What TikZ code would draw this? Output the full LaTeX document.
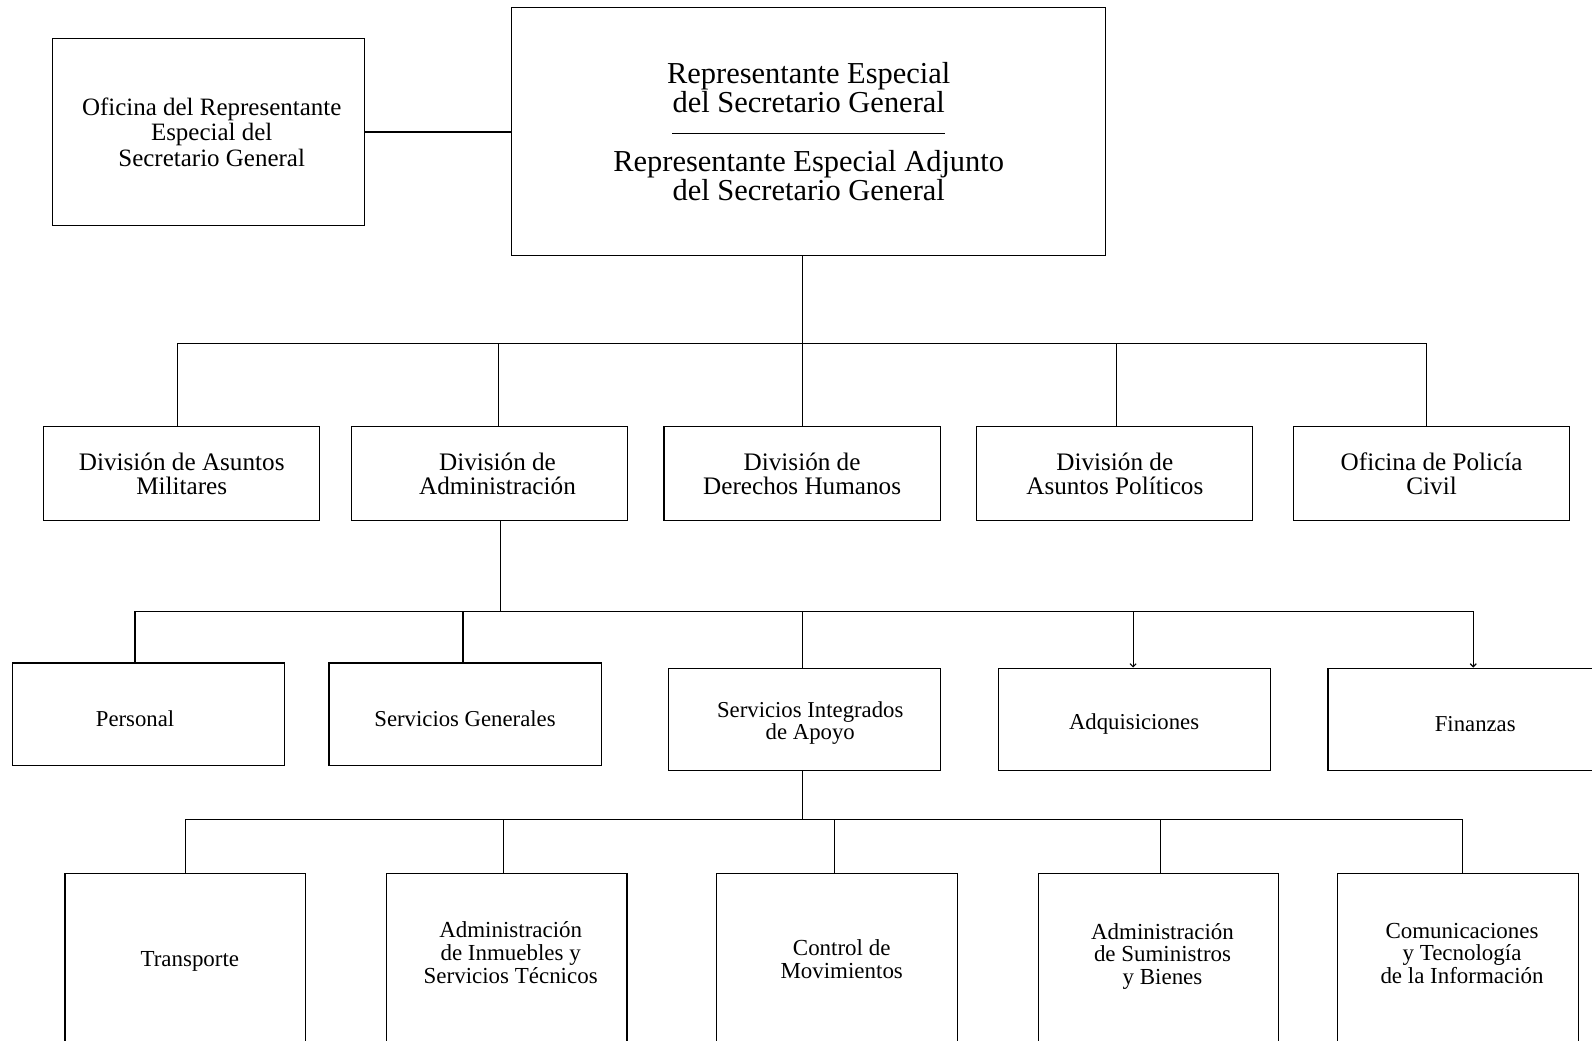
\documentclass[tikz,border=0pt]{standalone}
\usepackage{fontspec}
\setmainfont{Liberation Serif}
\usetikzlibrary{arrows.meta}
\begin{document}
\begin{tikzpicture}[x=0.5pt,y=-0.5pt,line width=0.55pt,
  box/.style={draw,line width=0.55pt,inner sep=0pt,align=center},
  topfont/.style={font=\fontsize{15}{14.5}\selectfont},
  divfont/.style={font=\fontsize{12.4}{12}\selectfont},
  ofifont/.style={font=\fontsize{12.3}{12.5}\selectfont},
  rowfont/.style={font=\fontsize{11.2}{11}\selectfont},
  botfont/.style={font=\fontsize{11.3}{11.25}\selectfont},
  divbox/.style={box,divfont,minimum width=136pt,minimum height=46.5pt},
  rowbox/.style={box,minimum width=134pt,minimum height=50.5pt},
  botbox/.style={box,minimum width=118.5pt,minimum height=100pt,anchor=north},
  lbl/.style={align=center,inner sep=0pt,botfont},
  rowlbl/.style={align=center,inner sep=0pt,rowfont},
  tip/.style={-{Straight Barb[length=1.5pt,width=3pt]}}]
\useasboundingbox (0,0) rectangle (1568,1025);
\clip (0,0) rectangle (1568,1025);

% top level
\node[box,topfont,minimum width=292.5pt,minimum height=122.5pt] (top) at (796.5,129.5)
  {Representante Especial\\del Secretario General\\\rule[4pt]{134.5pt}{0.5pt}\\Representante Especial Adjunto\\del Secretario General};
\node[box,ofifont,minimum width=153.5pt,minimum height=92pt] (ofi) at (205.5,130)
  {\hspace*{3pt}Oficina del Representante\\\hspace*{3pt}Especial del\\\hspace*{3pt}Secretario General};
\draw (ofi.east) -- (ofi.east -| top.west);

% divisions
\node[divbox] (d1) at (179,466.5) {División de Asuntos\\Militares};
\node[divbox] (d2) at (482,466.5) {\hspace*{8pt}División de\\\hspace*{8pt}Administración};
\node[divbox] (d3) at (790,466.5) {División de\\Derechos Humanos};
\node[divbox] (d4) at (1098,466.5) {División de\\Asuntos Políticos};
\node[divbox] (d5) at (1410,466.5) {Oficina de Policía\\Civil};

\coordinate (j0) at (790,338);
\coordinate (j1) at (175,338);
\coordinate (j2) at (491,338);
\coordinate (j3) at (790,338);
\coordinate (j4) at (1100,338);
\coordinate (j5) at (1405,338);
\draw (j0 |- top.south) -- (j0);
\draw (j1) -- (j5);
\foreach \i in {1,...,5} {\draw (j\i) -- (j\i |- d\i.north);}

% administration sections
\node[rowbox] (r1) at (146,703.5) {};
\node[rowbox] (r2) at (458,703.5) {};
\node[rowbox] (r3) at (792,708.5) {};
\node[rowbox] (r4) at (1117,708.5) {};
\node[rowbox,minimum width=145pt] (r5) at (1453,708.5) {};
\node[rowlbl] (q1) at (133,708) {Personal};
\node[rowlbl] (q2) at (458,708) {Servicios Generales};
\node[rowlbl] (q3) at (798,712) {Servicios Integrados\\de Apoyo};
\node[rowlbl] (q4) at (1117,713.5) {Adquisiciones};
\node[rowlbl] (q5) at (1453,713.5) {Finanzas};

\coordinate (k0) at (493,602);
\coordinate (k1) at (133,602);
\coordinate (k2) at (456,602);
\coordinate (k3) at (790,602);
\coordinate (k4) at (1116,602);
\coordinate (k5) at (1451,602);
\draw (k0 |- d2.south) -- (k0);
\draw (k1) -- (k5);
\draw (k1) -- (k1 |- r1.north);
\draw (k2) -- (k2 |- r2.north);
\draw (k3) -- (k3 |- r3.north);
\draw[tip] (k4) -- (k4 |- r4.north);
\draw[tip] (k5) -- (k5 |- r5.north);

% integrated support services
\node[botbox] (b1) at (182.5,860) {};
\node[botbox] (b2) at (499,860) {};
\node[botbox] (b3) at (824.5,860) {};
\node[botbox] (b4) at (1141,860) {};
\node[botbox] (b5) at (1436,860) {};
\node[lbl] (l1) at (187,947) {Transporte};
\node[lbl] (l2) at (503,938.5) {Administración\\de Inmuebles y\\Servicios Técnicos};
\node[lbl] (l3) at (829,944.5) {Control de\\Movimientos};
\node[lbl] (l4) at (1145,942) {Administración\\de Suministros\\y Bienes};
\node[lbl] (l5) at (1440,939) {Comunicaciones\\y Tecnología\\de la Información};

\coordinate (m0) at (790,807);
\coordinate (m1) at (183,807);
\coordinate (m2) at (496,807);
\coordinate (m3) at (822,807);
\coordinate (m4) at (1143,807);
\coordinate (m5) at (1440,807);
\draw (m0 |- r3.south) -- (m0);
\draw (m1) -- (m5);
\foreach \i in {1,...,5} {\draw (m\i) -- (m\i |- b\i.north);}
\end{tikzpicture}
\end{document}
